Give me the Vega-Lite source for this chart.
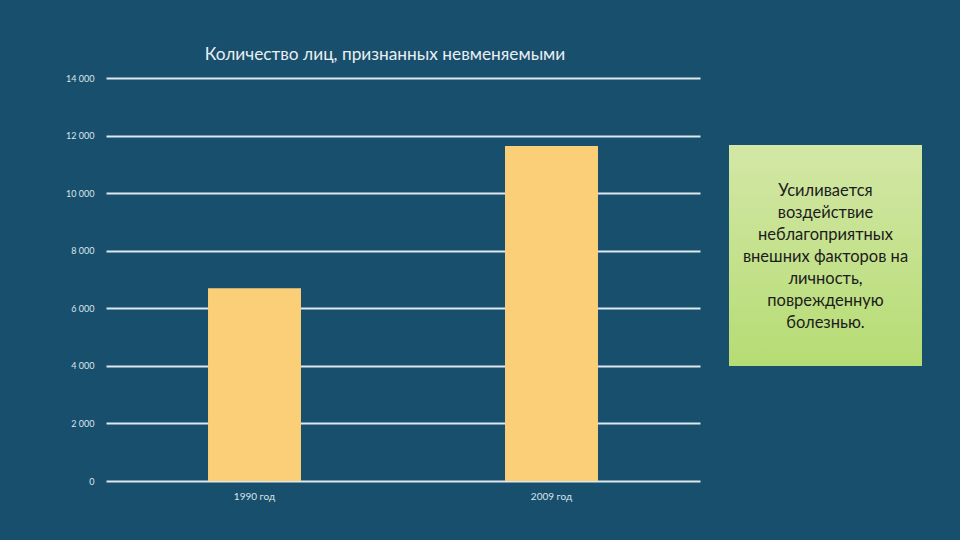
{
  "$schema": "https://vega.github.io/schema/vega-lite/v6.json",
  "background": "#184f6d",
  "padding": {"left": 65, "top": 45, "right": 38, "bottom": 42},
  "config": {"view": {"stroke": null}, "font": "Lato"},
  "spacing": 29,
  "hconcat": [
    {
      "width": 594,
      "height": 403,
      "title": {"text": "Количество лиц, признанных невменяемыми", "font": "Lato", "fontSize": 17.3, "fontWeight": "normal", "color": "#e8eef2", "offset": 11, "dx": -18},
      "data": {"values": [
        {"year": "1990 год", "count": 6700},
        {"year": "2009 год", "count": 11640}
      ]},
      "mark": {"type": "bar", "color": "#fbcf78"},
      "encoding": {
        "x": {
          "field": "year", "type": "nominal", "sort": null,
          "scale": {"paddingInner": 0.687, "paddingOuter": 0.3435},
          "axis": {"title": null, "labelAngle": 0, "domain": false, "ticks": false, "labelColor": "#dbe5eb", "labelFontSize": 10, "labelPadding": 10}
        },
        "y": {
          "field": "count", "type": "quantitative",
          "scale": {"domain": [0, 14000], "nice": false},
          "axis": {
            "title": null,
            "values": [0, 2000, 4000, 6000, 8000, 10000, 12000, 14000],
            "labelExpr": "replace(format(datum.value, ','), ',', ' ')",
            "grid": true, "gridColor": "#f4fafd", "gridWidth": 2, "gridOpacity": 0.9,
            "domain": false, "ticks": false,
            "labelColor": "#dbe5eb", "labelFontSize": 9, "labelPadding": 12
          }
        }
      }
    },
    {
      "spacing": 0,
      "vconcat": [
        {
          "width": 193,
          "height": 67,
          "data": {"values": []},
          "mark": {"type": "text"},
          "encoding": {}
        },
        {
          "width": 193,
          "height": 221,
          "view": {
            "fill": {
              "gradient": "linear", "x1": 0, "y1": 0, "x2": 0, "y2": 1,
              "stops": [{"offset": 0, "color": "#d3e7a6"}, {"offset": 1, "color": "#b6dc74"}]
            },
            "stroke": null
          },
          "data": {"values": [
            {"note": ["Усиливается", "воздействие", "неблагоприятных", "внешних факторов на", "личность,", "поврежденную", "болезнью."]}
          ]},
          "mark": {"type": "text", "font": "Lato", "fontSize": 16.5, "lineHeight": 22, "color": "#1c1c1c", "align": "center", "baseline": "middle", "dy": -65},
          "encoding": {
            "text": {"field": "note"}
          }
        }
      ]
    }
  ]
}
